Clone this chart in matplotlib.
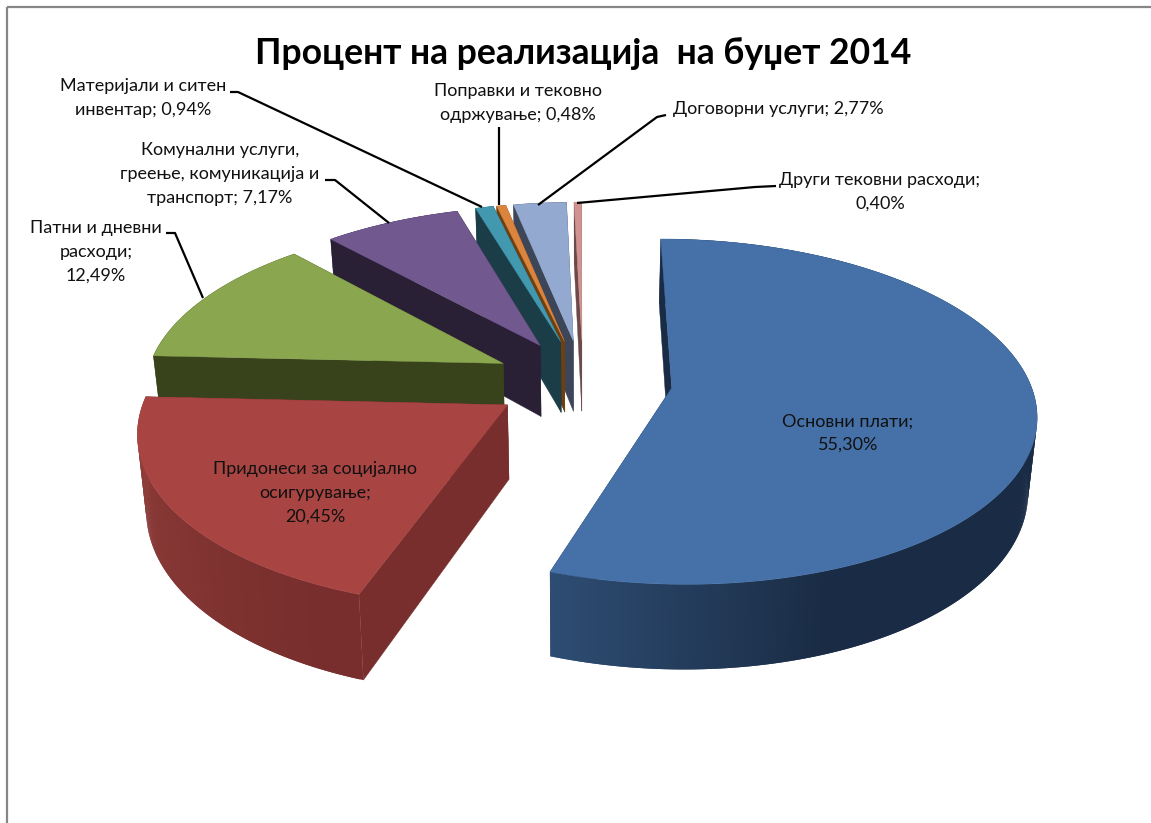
import numpy as np
import matplotlib
matplotlib.use('Agg')
import matplotlib.pyplot as plt
from matplotlib.colors import to_rgb

values = [55.30, 20.45, 12.49, 7.17, 0.94, 0.48, 2.77, 0.40]
top_colors = ['#4571A8', '#A84442', '#8AA64F', '#71588F', '#4198AF', '#DB843D', '#93A9CF', '#D19392']
side_colors = ['#1A2C45', '#772E2C', '#38431C', '#2A2036', '#1A3D48', '#6F3F10', '#3D4658', '#6B4A49']
wall_light = ['#2E4D73', '#8F3D3A', '#38431C', '#2A2036', '#1A3D48', '#6F3F10', '#3D4658', '#6B4A49']

title = 'Процент на реализација  на буџет 2014'

label_text = [
    'Основни плати;\n55,30%',
    'Придонеси за социјално\nосигурување;\n20,45%',
    'Патни и дневни\nрасходи;\n12,49%',
    'Комунални услуги,\nгреење, комуникација и\nтранспорт; 7,17%',
    'Материјали и ситен\nинвентар; 0,94%',
    'Поправки и тековно\nодржување; 0,48%',
    'Договорни услуги; 2,77%',
    'Други тековни расходи;\n0,40%',
]
label_x = [848, 315, 96, 220, 143, 518, 778, 880]
label_y = [433, 493, 252, 174, 98, 103, 109, 192]

# leader lines, pixel space of the picture
leaders = [
    None,
    None,
    [(166, 233), (175, 233), (203, 298)],
    [(325, 180), (335, 180), (389, 223)],
    [(230, 92), (238, 92), (482, 207)],
    [(499, 127), (499, 205)],
    [(666, 115), (657, 117), (538, 205)],
    [(776, 186), (755, 187), (577, 203)],
]

# perspective of the 3d pie, fitted from the picture
Z0 = 2622.0
H = 1234.0
XV = 581.0
YV = -846.0
R = 360.0
DEPTH = 0.0595
BASE_SHRINK = 0.98
EXPLODE = 90.0
CX, CV = 2.0, -15.0


def proj(X, v, low=False):
    s = 1.0 / (1.0 - np.asarray(v) / Z0)
    if low:
        return XV + np.asarray(X) * s * BASE_SHRINK, YV + H * s * (1 + DEPTH)
    return XV + np.asarray(X) * s, YV + H * s


def mix(c1, c2, t):
    a, b = np.array(to_rgb(c1)), np.array(to_rgb(c2))
    return tuple(a + (b - a) * t)


fig = plt.figure(figsize=(11.51, 8.23), dpi=100)
ax = fig.add_axes([0, 0, 1, 1])
ax.set_xlim(0, 1151)
ax.set_ylim(823, 0)
ax.axis('off')

plt.rcParams['font.family'] = ['Lato', 'Noto Sans', 'DejaVu Sans']

edges = np.concatenate([[0], np.cumsum(values)]) * 3.6

# back slices first, red and blue last
order = [7, 6, 5, 4, 3, 2, 1, 0]
z = 2
for i in order:
    a0, a1 = np.radians(edges[i]), np.radians(edges[i + 1])
    mid = (a0 + a1) / 2
    ox = CX + EXPLODE * np.sin(mid)
    ov = CV - EXPLODE * np.cos(mid)
    th = np.linspace(a0, a1, max(int(edges[i + 1] - edges[i]) * 2, 3))
    rim_x = ox + R * np.sin(th)
    rim_v = ov - R * np.cos(th)

    # flat radial faces
    for a in (a0, a1):
        ex, ev = ox + R * np.sin(a), ov - R * np.cos(a)
        x1, y1 = proj([ox, ex], [ov, ev])
        x2, y2 = proj([ex, ox], [ev, ov], low=True)
        ax.fill(np.r_[x1, x2], np.r_[y1, y2], color=side_colors[i], lw=0.3, zorder=z)

    # outer wall in strips so it can shade, each strip runs under the next so no seams show
    tx, ty = proj(rim_x, rim_v)
    bx, by = proj(rim_x, rim_v, low=True)
    for k in range(len(th) - 1):
        if i == 0:
            t = np.clip((np.degrees(th[k]) - 160) / 39, 0, 1)
        elif i == 1:
            t = np.clip((np.degrees(th[k]) - 205) / 60, 0, 1)
        else:
            t = 0
        col = mix(side_colors[i], wall_light[i], t)
        e = min(k + 3, len(th))
        ax.fill(np.r_[tx[k:e], bx[k:e][::-1]], np.r_[ty[k:e], by[k:e][::-1]],
                facecolor=col, edgecolor='none', lw=0, zorder=z)

    # top
    px, py = proj(np.r_[ox, rim_x], np.r_[ov, rim_v])
    ax.fill(px, py, color=top_colors[i], lw=0.3, zorder=z + 1)
    z += 2

for line in leaders:
    if line is not None:
        ax.plot([p[0] for p in line], [p[1] for p in line], color='black', lw=1.6, zorder=50,
                solid_capstyle='butt')

for i in range(len(values)):
    ax.text(label_x[i], label_y[i], label_text[i], ha='center', va='center', fontsize=13,
            color='#111111', linespacing=1.58, zorder=60)

ax.text(583, 53, title, ha='center', va='center', fontsize=25.6, fontweight='bold', color='black', zorder=60)

# chart frame
ax.plot([7, 7], [823, 7], color='#868686', lw=1.6, zorder=70, solid_capstyle='butt')
ax.plot([7, 1151], [7, 7], color='#868686', lw=1.6, zorder=70, solid_capstyle='butt')

fig.savefig('out.png', dpi=100, facecolor='white')
